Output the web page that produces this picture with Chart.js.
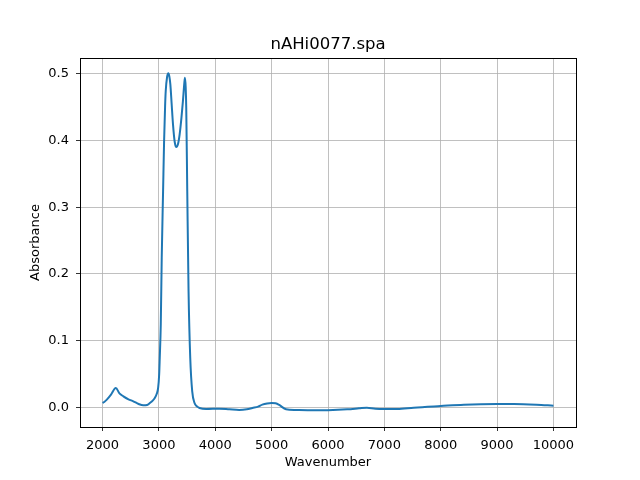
<!DOCTYPE html>
<html>
<head>
<meta charset="utf-8">
<script src="https://cdn.jsdelivr.net/npm/chart.js@4"></script>
<style>
  html, body { margin: 0; padding: 0; background: #fff; }
  #wrap { width: 640px; height: 480px; }
</style>
</head>
<body>
<div id="wrap"><canvas id="chartSpectrum" width="640" height="480"></canvas></div>
<script>
const wavenumber = [2000, 2030, 2076, 2150, 2235, 2300, 2370, 2460, 2546, 2640, 2722, 2790, 2840, 2890, 2927, 2960, 2986, 3005, 3015, 3033, 3050, 3074, 3092, 3110, 3121, 3145, 3168, 3185, 3203, 3225, 3250, 3280, 3309, 3340, 3368, 3400, 3426, 3450, 3462, 3475, 3485, 3503, 3526, 3556, 3591, 3632, 3680, 3720, 3837, 4072, 4250, 4424, 4560, 4659, 4760, 4835, 4920, 5000, 5070, 5135, 5255, 5430, 5750, 6000, 6340, 6550, 6690, 6840, 7230, 7520, 8000, 8410, 9000, 9300, 9700, 10000];
const absorbance = [0.0065, 0.008, 0.0115, 0.019, 0.029, 0.021, 0.0165, 0.012, 0.009, 0.005, 0.003, 0.0035, 0.0065, 0.010, 0.014, 0.020, 0.029, 0.050, 0.074, 0.124, 0.224, 0.324, 0.399, 0.452, 0.474, 0.495, 0.5005, 0.496, 0.484, 0.456, 0.424, 0.398, 0.390, 0.395, 0.409, 0.434, 0.459, 0.485, 0.494, 0.480, 0.449, 0.324, 0.174, 0.074, 0.024, 0.0065, 0.001, -0.001, -0.0025, -0.002, -0.003, -0.004, -0.003, -0.001, 0.001, 0.004, 0.0058, 0.0065, 0.006, 0.0035, -0.003, -0.004, -0.0045, -0.0043, -0.003, -0.0015, -0.0005, -0.002, -0.0025, -0.0005, 0.002, 0.004, 0.005, 0.005, 0.004, 0.0025];

const xTicks = [2000, 3000, 4000, 5000, 6000, 7000, 8000, 9000, 10000];
const yTicks = [0.0, 0.1, 0.2, 0.3, 0.4, 0.5];
const titulo = 'nAHi0077.spa';

const puntos = wavenumber.map((w, i) => ({ x: w, y: absorbance[i] }));

// marco completo y título centrado sobre el área del gráfico
const marco = {
  id: 'marco',
  afterDraw(chart) {
    const a = chart.chartArea, c = chart.ctx;
    c.save();
    c.strokeStyle = '#000';
    c.lineWidth = 1;
    c.strokeRect(Math.round(a.left) + 0.5, Math.round(a.top) + 0.5, Math.round(a.right - a.left), Math.round(a.bottom - a.top));
    c.fillStyle = '#000';
    c.font = '16.5px "DejaVu Sans"';
    c.textAlign = 'center';
    c.textBaseline = 'alphabetic';
    c.fillText(titulo, (a.left + a.right) / 2, 49);
    c.restore();
  }
};

const fuenteTick = { family: 'DejaVu Sans', size: 13 };

new Chart(document.getElementById('chartSpectrum').getContext('2d'), {
  type: 'line',
  data: {
    datasets: [{
      data: puntos,
      borderColor: '#1f77b4', borderWidth: 2, pointRadius: 0, fill: false,
      cubicInterpolationMode: 'monotone'
    }]
  },
  options: {
    responsive: false, animation: false, devicePixelRatio: 1,
    layout: { padding: { left: 28, right: 64, top: 58, bottom: 0 } },
    plugins: {
      legend: { display: false },
      tooltip: { enabled: false },
      title: { display: false }
    },
    scales: {
      x: {
        type: 'linear', min: 1600, max: 10400,
        afterBuildTicks: s => { s.ticks = xTicks.map(v => ({ value: v })); },
        afterFit: s => { s.height = 53; },
        ticks: { color: '#000', font: fuenteTick, padding: 7, maxRotation: 0, callback: v => String(v) },
        grid: { color: '#b0b0b0', lineWidth: 0.8, tickColor: '#000', tickLength: 4 },
        border: { display: true, color: '#000' },
        title: { display: true, text: 'Wavenumber', color: '#000', font: fuenteTick, padding: { top: 2, bottom: 10 } }
      },
      y: {
        type: 'linear', min: -0.0295, max: 0.5235,
        afterBuildTicks: s => { s.ticks = yTicks.map(v => ({ value: v })); },
        afterFit: s => { s.width = 52; },
        ticks: { color: '#000', font: fuenteTick, padding: 7, callback: v => v.toFixed(1) },
        grid: { color: '#b0b0b0', lineWidth: 0.8, tickColor: '#000', tickLength: 4 },
        border: { display: true, color: '#000' },
        title: { display: true, text: 'Absorbance', color: '#000', font: fuenteTick, padding: { top: 0, bottom: 0 } }
      }
    }
  },
  plugins: [marco]
});
</script>
</body>
</html>
